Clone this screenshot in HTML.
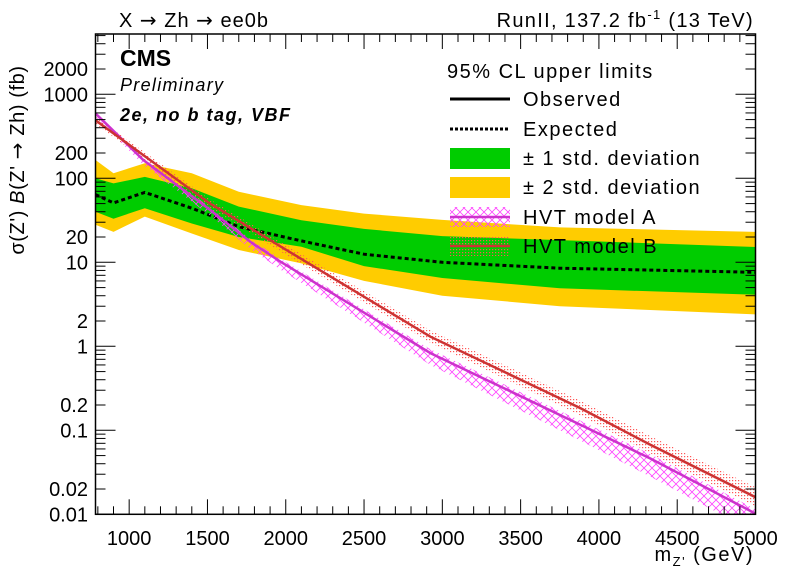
<!DOCTYPE html>
<html><head><meta charset="utf-8">
<style>
html,body{margin:0;padding:0;background:#fff;}
svg{display:block;font-family:"Liberation Sans",Arial,sans-serif;}
.arr{font-family:"DejaVu Sans",sans-serif;}
</style></head>
<body>
<svg id="chart" width="796" height="572" viewBox="0 0 796 572" xmlns="http://www.w3.org/2000/svg">
<defs>
<pattern id="hatchA" width="8" height="8" patternUnits="userSpaceOnUse">
<path d="M0,0 L8,8 M8,0 L0,8" stroke="#ff44ff" stroke-width="0.8" fill="none"/>
</pattern>
<pattern id="dotB" width="3" height="3" patternUnits="userSpaceOnUse">
<rect x="0" y="0" width="1.2" height="1.2" fill="#ff5555"/>
</pattern>
<clipPath id="plotclip"><rect x="95.5" y="34" width="660" height="480"/></clipPath>
</defs>
<g id="bands" clip-path="url(#plotclip)"></g>
<g id="axes"></g>
<text x="119" y="27" font-size="20" letter-spacing="1">X <tspan class="arr">→</tspan> Zh <tspan class="arr">→</tspan> ee0b</text>
<text x="754" y="27" font-size="20" text-anchor="end" letter-spacing="1.3">RunII, 137.2 fb<tspan font-size="13" dy="-8">-1</tspan><tspan dy="8">  (13 TeV)</tspan></text>
<text x="120" y="66" font-size="23" font-weight="bold">CMS</text>
<text x="120" y="91" font-size="18" font-style="italic" letter-spacing="1.3">Preliminary</text>
<text x="120" y="121" font-size="18" font-style="italic" font-weight="bold" letter-spacing="1.5">2e, no b tag, VBF</text>
<text transform="translate(24,160) rotate(-90)" font-size="20" text-anchor="middle" letter-spacing="0.6">σ(Z')  <tspan font-style="italic">B</tspan>(Z' <tspan class="arr">→</tspan> Zh) (fb)</text>
<text x="754" y="561" font-size="20" text-anchor="end" letter-spacing="1.5">m<tspan font-size="13" dy="5">Z'</tspan><tspan dy="-5"> (GeV)</tspan></text>
<g id="legend" letter-spacing="1.5">
<text x="447" y="78" font-size="20">95% CL upper limits</text>
<line x1="450" y1="99" x2="510" y2="99" stroke="#000" stroke-width="3"/>
<text x="523" y="106" font-size="20">Observed</text>
<line x1="450" y1="129" x2="510" y2="129" stroke="#000" stroke-width="3" stroke-dasharray="3,2"/>
<text x="523" y="136" font-size="20">Expected</text>
<rect x="450" y="148" width="60" height="21" fill="#00cc00"/>
<text x="523" y="165" font-size="20">± 1 std. deviation</text>
<rect x="450" y="177" width="60" height="21" fill="#ffcc00"/>
<text x="523" y="194" font-size="20">± 2 std. deviation</text>
<rect x="450" y="207" width="60" height="20" fill="url(#hatchA)"/>
<line x1="450" y1="217" x2="510" y2="217" stroke="#cc33cc" stroke-width="2.5"/>
<text x="523" y="224" font-size="20">HVT model A</text>
<rect x="450" y="236" width="60" height="20" fill="url(#dotB)"/>
<line x1="450" y1="246" x2="510" y2="246" stroke="#cc3333" stroke-width="2.5"/>
<text x="523" y="253" font-size="20">HVT model B</text>
</g>
</svg>
<script>
// expected limit and bands
const bandMass = [785, 900, 1100, 1400, 1700, 2100, 2500, 3000, 3750, 5000];
const expVals  = [64, 51, 68, 44, 26.5, 18, 12.5, 10, 8.5, 7.6];
const g1Hi     = [100, 87, 104, 76, 46, 31.6, 25, 20.5, 18.4, 15.2];
const g1Lo     = [40, 33, 44, 29, 20, 15.3, 9, 6.5, 4.9, 4.1];
const y2Hi     = [165, 115, 151, 115, 69, 48, 38, 32, 26, 23];
const y2Lo     = [28, 23, 35, 22, 14, 9.7, 6, 4, 3, 2.4];
// HVT models
const hvtMass = [785, 1090, 1517, 1773, 1965, 2924, 3883, 4330, 5000];
const hvtA    = [590, 165, 42, 17.6, 10.2, 0.83, 0.116, 0.046, 0.0102];
const hvtAHi  = [620, 175, 45, 19, 11, 0.92, 0.13, 0.052, 0.0115];
const hvtALo  = [540, 145, 36, 14.5, 8.2, 0.6, 0.075, 0.028, 0.006];
const hvtB    = [490, 189, 50, 25.6, 15.5, 1.3, 0.183, 0.067, 0.016];
const hvtBHi  = [540, 210, 56, 29, 17.6, 1.55, 0.225, 0.085, 0.021];
const hvtBLo  = [445, 170, 44, 22.5, 13.5, 1.1, 0.15, 0.053, 0.0125];
const xTicks = [1000, 1500, 2000, 2500, 3000, 3500, 4000, 4500, 5000];
const yTickLabels = ["2000","1000","200","100","20","10","2","1","0.2","0.1","0.02","0.01"];

const X0=95.5, X1=755.5, Y0=514.3, YT=34, XMIN=785, XMAX=5000, DEC=84;
const xs = m => X0 + (m - XMIN) * (X1 - X0) / (XMAX - XMIN);
const ys = v => Y0 - DEC * (Math.log10(v) + 2);
const NS='http://www.w3.org/2000/svg';
const bands=document.getElementById('bands'), axes=document.getElementById('axes');
function mk(tag, parent, attrs){const e=document.createElementNS(NS,tag);for(const k in attrs)e.setAttribute(k,attrs[k]);parent.appendChild(e);return e;}
function area(mass, hi, lo){let d='';mass.forEach((m,i)=>{d+=(i?'L':'M')+xs(m).toFixed(1)+','+ys(hi[i]).toFixed(1);});for(let i=mass.length-1;i>=0;i--)d+='L'+xs(mass[i]).toFixed(1)+','+ys(lo[i]).toFixed(1);return d+'Z';}
function line(mass, v){return mass.map((m,i)=>(i?'L':'M')+xs(m).toFixed(1)+','+ys(v[i]).toFixed(1)).join('');}

let e;
e=mk('path',bands,{d:area(bandMass,y2Hi,y2Lo),fill:'#ffcc00'});


e=mk('path',bands,{d:area(bandMass,g1Hi,g1Lo),fill:'#00cc00'});


e=mk('path',bands,{d:line(bandMass,expVals),fill:'none',stroke:'#000','stroke-width':3,'stroke-dasharray':'4,3'});


e=mk('path',bands,{d:area(hvtMass,hvtAHi,hvtALo),fill:'url(#hatchA)'});


e=mk('path',bands,{d:area(hvtMass,hvtBHi,hvtBLo),fill:'url(#dotB)'});


e=mk('path',bands,{d:line(hvtMass,hvtA),fill:'none',stroke:'#cc33cc','stroke-width':2.5});


e=mk('path',bands,{d:line(hvtMass,hvtB),fill:'none',stroke:'#cc3333','stroke-width':2.5});



e=mk('rect',axes,{x:X0,y:YT,width:X1-X0,height:Y0-YT,fill:'none',stroke:'#000','stroke-width':1.5});


// x ticks
for(let m=800;m<=5000;m+=100){const x=xs(m);const L=(m%500===0)?15:8;
 mk('line',axes,{x1:x,y1:Y0,x2:x,y2:Y0-L,stroke:'#000','stroke-width':1});
 mk('line',axes,{x1:x,y1:YT,x2:x,y2:YT+L,stroke:'#000','stroke-width':1});}
xTicks.forEach(m=>{const t=mk('text',axes,{x:xs(m),y:545,'font-size':20,'text-anchor':'middle'});t.textContent=m;
 
 });
// y ticks
for(let p=-2;p<=3;p++){for(let k=1;k<=9;k++){const v=k*Math.pow(10,p);if(v>5000)break;const y=ys(v);const L=k===1?20:10;
 mk('line',axes,{x1:X0,y1:y,x2:X0+L,y2:y,stroke:'#000','stroke-width':1});
 mk('line',axes,{x1:X1,y1:y,x2:X1-L,y2:y,stroke:'#000','stroke-width':1});}}
yTickLabels.forEach(s=>{const t=mk('text',axes,{x:88,y:ys(parseFloat(s))+7,'font-size':20,'text-anchor':'end'});t.textContent=s;
 
 });
</script>
</body></html>
